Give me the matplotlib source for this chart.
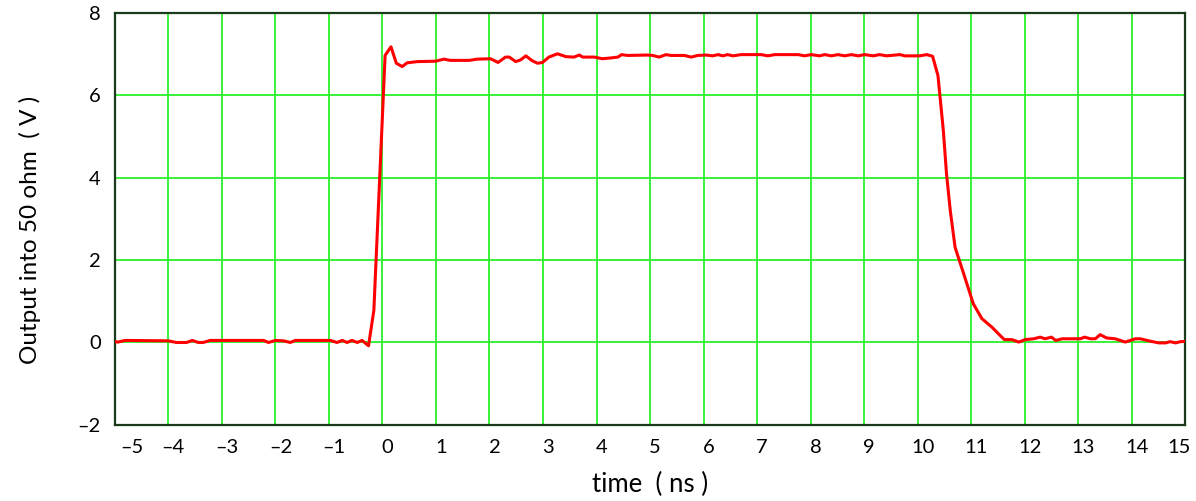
import numpy as np
import matplotlib
matplotlib.use('Agg')
from matplotlib import pyplot as plt
from matplotlib.transforms import ScaledTranslation


#(0) Waveform:
t_ns = [-5.10, -4.94, -4.81, -4.00, -3.85, -3.66, -3.55, -3.44, -3.35, -3.22,
        -2.22, -2.13, -2.00, -1.85, -1.72, -1.63, -0.97, -0.85, -0.75, -0.66,
        -0.57, -0.47, -0.38, -0.26, -0.16, 0.05, 0.16, 0.26, 0.37, 0.46,
        0.65, 0.99, 1.15, 1.27, 1.62, 1.77, 2.02, 2.16, 2.30, 2.37,
        2.49, 2.58, 2.68, 2.80, 2.90, 2.99, 3.11, 3.27, 3.43, 3.58,
        3.68, 3.74, 3.96, 4.11, 4.27, 4.40, 4.47, 4.58, 4.96, 5.05,
        5.17, 5.30, 5.39, 5.64, 5.77, 5.89, 6.05, 6.17, 6.27, 6.36,
        6.45, 6.55, 6.70, 7.08, 7.20, 7.33, 7.77, 7.89, 8.01, 8.17,
        8.26, 8.39, 8.51, 8.64, 8.76, 8.89, 9.01, 9.17, 9.29, 9.42,
        9.67, 9.76, 10.04, 10.17, 10.28, 10.38, 10.48, 10.54, 10.61, 10.70,
        10.86, 11.04, 11.20, 11.39, 11.51, 11.62, 11.76, 11.89, 12.01, 12.17,
        12.29, 12.38, 12.50, 12.58, 12.70, 13.04, 13.12, 13.23, 13.32, 13.41,
        13.53, 13.69, 13.88, 14.07, 14.16, 14.35, 14.51, 14.63, 14.72, 14.82,
        14.91, 15.07]
v_out = [0.04, 0.01, 0.05, 0.04, 0.00, 0.00, 0.05, 0.00, 0.00, 0.05,
         0.05, 0.00, 0.05, 0.04, 0.00, 0.05, 0.05, 0.00, 0.05, 0.00,
         0.05, 0.00, 0.05, -0.08, 0.78, 6.97, 7.18, 6.78, 6.70, 6.79,
         6.82, 6.83, 6.88, 6.85, 6.85, 6.88, 6.89, 6.80, 6.93, 6.93,
         6.82, 6.86, 6.96, 6.84, 6.78, 6.80, 6.93, 7.01, 6.94, 6.93,
         6.98, 6.93, 6.93, 6.89, 6.91, 6.93, 6.99, 6.97, 6.98, 6.97,
         6.93, 6.99, 6.97, 6.97, 6.93, 6.97, 6.98, 6.96, 6.99, 6.96,
         6.99, 6.96, 6.99, 6.99, 6.96, 6.99, 6.99, 6.96, 6.99, 6.96,
         6.99, 6.96, 6.99, 6.96, 6.99, 6.96, 6.99, 6.96, 6.99, 6.96,
         6.99, 6.96, 6.96, 6.99, 6.95, 6.48, 5.15, 4.09, 3.20, 2.31,
         1.67, 0.94, 0.58, 0.37, 0.21, 0.07, 0.07, 0.01, 0.07, 0.09,
         0.13, 0.09, 0.13, 0.05, 0.09, 0.09, 0.13, 0.09, 0.09, 0.19,
         0.11, 0.09, 0.01, 0.09, 0.09, 0.03, -0.01, -0.01, 0.02, -0.01,
         0.02, 0.03]

x_ticks = np.arange(-5, 16, 1)
y_ticks = np.arange(-2, 9, 2)


#(1) Plot:
plt.close('all')
plt.rcParams['font.family'] = ['Lato', 'DejaVu Sans']
fig = plt.figure(figsize=(11.96, 5.01), dpi=100)
ax = fig.add_axes([0.096, 0.152, 0.895, 0.822])

gc = '#2bf02b'
ax.grid(True, color=gc, lw=1.3, zorder=0)
ax.plot(t_ns, v_out, color='#ff0000', lw=2.2, zorder=3)

ax.set_xlim(-5, 15)
ax.set_ylim(-2, 8)
ax.set_xticks(x_ticks)
ax.set_yticks(y_ticks)
fmt = lambda k: ('\u2013%d' % -k) if k < 0 else '%d' % k
ax.set_xticklabels([fmt(k) for k in x_ticks])
ax.set_yticklabels([fmt(k) for k in y_ticks])
ax.tick_params(length=0, labelsize=14.5, colors='black')
ax.tick_params(axis='x', pad=10)
ax.tick_params(axis='y', pad=10)

# labels sit a little right of the grid lines in the original
off = ScaledTranslation(5/100, 0, fig.dpi_scale_trans)
xl = ax.get_xticklabels()
for lab in xl:
	lab.set_transform(lab.get_transform() + off)
xl[0].set_horizontalalignment('left')
xl[-1].set_horizontalalignment('right')

for s in ax.spines.values():
	s.set_color('#1a3a1a')
	s.set_linewidth(1.6)

ax.set_xlabel('time  ( ns )', size=18.5, labelpad=12)
ax.set_ylabel('Output into 50 ohm  ( V )', size=17.5)
ax.yaxis.set_label_coords(-0.069, 0.473)

plt.savefig('out.png', dpi=100)
